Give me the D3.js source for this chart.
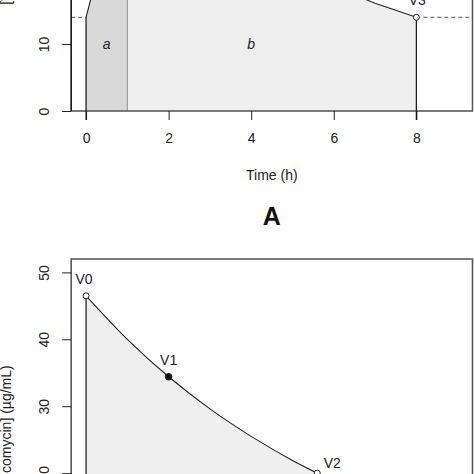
<!DOCTYPE html>
<html>
<head>
<meta charset="utf-8">
<script src="https://cdn.jsdelivr.net/npm/d3@7"></script>
<style>
  html, body { margin: 0; padding: 0; background: #fff; }
  svg { display: block; font-family: "Liberation Sans", Arial, sans-serif; }
</style>
</head>
<body>
<svg id="chart" width="474" height="474"></svg>
<script>
// ---- data ----
const xTicks = [0, 2, 4, 6, 8];
const yTicksA = [0, 10];          // visible ticks of panel A
const yTicksB = [20, 30, 40, 50]; // visible ticks of panel B
const yLabel = "[Vancomycin] (µg/mL)";
const xLabel = "Time (h)";
const panelLabelA = "A";

// Panel A: infusion 0-1 h, then decay to trough at 8 h
const timeA = [0, 1, 2, 3, 4, 5, 6, 7, 8];
const concA = [14, 37.8, 32.8, 28.5, 24.7, 21.4, 18.6, 16.1, 14];
const troughA = 14;
const regionNames = ["a", "b"];
const regionStart = [0, 1];
const regionEnd = [1, 8];
const regionLabelT = [0.5, 4];
const regionLabelC = [10, 10];

// Panel B: decay with labelled samples
const timeB = [0, 1, 2, 3, 4, 5, 5.6];
const concB = [46.5, 40.0, 34.4, 29.6, 25.5, 21.9, 20];
const pointNames = ["V0", "V1", "V2"];
const pointTimes = [0, 2, 5.6];
const pointConc = [46.5, 34.4, 20];
const pointFilled = [false, true, false];

// ---- layout ----
const svg = d3.select("#chart");
const left = 71.2, right = 472.5;
const x = d3.scaleLinear().domain([-0.36, 9.36]).range([left, right]);
const yA = d3.scaleLinear().domain([0, 52]).range([111, -237]);
const yB = d3.scaleLinear().domain([0, 52]).range([607, 259]);

const boxColor = "#5a5a5a";
const fs = 14;

function interp(times, vals, t) {
  for (let i = 0; i < times.length - 1; i++) {
    if (t >= times[i] && t <= times[i + 1]) {
      const f = (t - times[i]) / (times[i + 1] - times[i]);
      return vals[i] + f * (vals[i + 1] - vals[i]);
    }
  }
  return vals[vals.length - 1];
}

function axes(g, y, yTicks, withX) {
  const ya = d3.axisLeft(y).tickValues(yTicks).tickSize(9).tickFormat(d3.format("d"));
  const gy = g.append("g").attr("transform", `translate(${left},0)`).call(ya);
  gy.attr("font-size", fs).attr("font-family", "Liberation Sans, Arial, sans-serif");
  gy.select(".domain").remove();
  gy.selectAll(".tick line").attr("stroke", "#222");
  gy.selectAll(".tick text")
    .attr("x", 0).attr("dy", 0)
    .attr("text-anchor", "middle")
    .attr("transform", "translate(-22,0) rotate(-90)")
    .attr("fill", "#222");
  if (withX) {
    const xa = d3.axisBottom(x).tickValues(xTicks).tickSize(9).tickFormat(d3.format("d"));
    const gx = g.append("g").attr("transform", `translate(0,${y(0)})`).call(xa);
    gx.attr("font-size", fs).attr("font-family", "Liberation Sans, Arial, sans-serif");
    gx.select(".domain").remove();
    gx.selectAll(".tick line").attr("stroke", "#222");
    gx.selectAll(".tick text")
      .attr("y", 32).attr("dy", 0)
      .attr("fill", "#222");
  }
}

// ================= Panel A =================
const gA = svg.append("g");
const regionFill = ["#d8d8d8", "#efefef"];
regionNames.forEach((name, i) => {
  const pts = timeA.filter(t => t > regionStart[i] && t < regionEnd[i]);
  const ts = [regionStart[i], ...pts, regionEnd[i]];
  const area = d3.area()
    .x(t => x(t)).y0(yA(0)).y1(t => yA(interp(timeA, concA, t)));
  gA.append("path").attr("d", area(ts)).attr("fill", regionFill[i]);
});
gA.append("line")
  .attr("x1", x(regionEnd[0])).attr("x2", x(regionEnd[0]))
  .attr("y1", yA(0)).attr("y2", yA(interp(timeA, concA, regionEnd[0])))
  .attr("stroke", "#9a9a9a").attr("stroke-width", 1.2);
regionNames.forEach((name, i) => {
  gA.append("text")
    .attr("x", x(regionLabelT[i]))
    .attr("y", yA(regionLabelC[i]) + 5)
    .attr("text-anchor", "middle")
    .style("font-style", "italic")
    .style("font-size", "14px")
    .attr("fill", "#222")
    .text(name);
});
gA.append("line")
  .attr("x1", left).attr("x2", x(0))
  .attr("y1", yA(troughA)).attr("y2", yA(troughA))
  .attr("stroke", "#555").attr("stroke-dasharray", "4,3");
gA.append("line")
  .attr("x1", x(8)).attr("x2", right)
  .attr("y1", yA(troughA)).attr("y2", yA(troughA))
  .attr("stroke", "#555").attr("stroke-dasharray", "4,3");
gA.append("rect")
  .attr("x", left).attr("y", yA(52)).attr("width", right - left).attr("height", yA(0) - yA(52))
  .attr("fill", "none").attr("stroke", boxColor).attr("stroke-width", 1.6);
gA.append("line").attr("x1", left).attr("x2", left).attr("y1", yA(0)).attr("y2", yA(50))
  .attr("stroke", "#111").attr("stroke-width", 1.2);
axes(gA, yA, yTicksA, true);
[0, 8].forEach(t => {
  gA.append("line")
    .attr("x1", x(t)).attr("x2", x(t))
    .attr("y1", yA(0) + 9).attr("y2", yA(interp(timeA, concA, t)))
    .attr("stroke", "#111").attr("stroke-width", 1.2);
});
gA.append("path")
  .datum(timeA.map((t, i) => [t, concA[i]]))
  .attr("d", d3.line().x(d => x(d[0])).y(d => yA(d[1])))
  .attr("fill", "none").attr("stroke", "#222").attr("stroke-width", 1.1);
gA.append("circle").attr("cx", x(8)).attr("cy", yA(troughA)).attr("r", 3)
  .attr("fill", "#fff").attr("stroke", "#222").attr("stroke-width", 1);
gA.append("text").attr("x", x(8) + 1).attr("y", yA(troughA) - 12)
  .attr("text-anchor", "middle").style("font-size", "14px").attr("fill", "#222").text("V3");
gA.append("text").attr("x", (left + right) / 2).attr("y", 180)
  .attr("text-anchor", "middle").style("font-size", "14px").attr("fill", "#222").text(xLabel);
gA.append("text")
  .attr("transform", `translate(11,${(yA(0) + yA(52)) / 2}) rotate(-90)`)
  .attr("text-anchor", "middle").style("font-size", "14px").attr("fill", "#222").text(yLabel);
gA.append("text").attr("x", (left + right) / 2).attr("y", 225)
  .attr("text-anchor", "middle").style("font-size", "25px").style("font-weight", "bold")
  .attr("fill", "#111").text(panelLabelA);

// ================= Panel B =================
const gB = svg.append("g");
const ptsB = timeB.map((t, i) => [t, concB[i]]);
gB.append("path")
  .datum(ptsB)
  .attr("d", d3.area().x(d => x(d[0])).y0(yB(0)).y1(d => yB(d[1])).curve(d3.curveMonotoneX))
  .attr("fill", "#efefef");
gB.append("rect")
  .attr("x", left).attr("y", yB(52)).attr("width", right - left).attr("height", yB(0) - yB(52))
  .attr("fill", "none").attr("stroke", boxColor).attr("stroke-width", 1.6);
axes(gB, yB, yTicksB, false);
gB.append("line")
  .attr("x1", x(0)).attr("x2", x(0)).attr("y1", yB(0)).attr("y2", yB(concB[0]))
  .attr("stroke", "#111").attr("stroke-width", 1.2);
gB.append("path")
  .datum(ptsB)
  .attr("d", d3.line().x(d => x(d[0])).y(d => yB(d[1])).curve(d3.curveMonotoneX))
  .attr("fill", "none").attr("stroke", "#222").attr("stroke-width", 1.1);
const labelDx = [-2, 0, 15];
const labelDy = [-12, -12, -5];
pointNames.forEach((n, i) => {
  gB.append("circle").attr("cx", x(pointTimes[i])).attr("cy", yB(pointConc[i]))
    .attr("r", pointFilled[i] ? 3.3 : 3)
    .attr("fill", pointFilled[i] ? "#111" : "#fff")
    .attr("stroke", "#222").attr("stroke-width", 1);
  gB.append("text").attr("x", x(pointTimes[i]) + labelDx[i]).attr("y", yB(pointConc[i]) + labelDy[i])
    .attr("text-anchor", "middle").style("font-size", "14px").attr("fill", "#222").text(n);
});
gB.append("text")
  .attr("transform", `translate(11,${(yB(0) + yB(52)) / 2}) rotate(-90)`)
  .attr("text-anchor", "middle").style("font-size", "14px").attr("fill", "#222").text(yLabel);
</script>
</body>
</html>
